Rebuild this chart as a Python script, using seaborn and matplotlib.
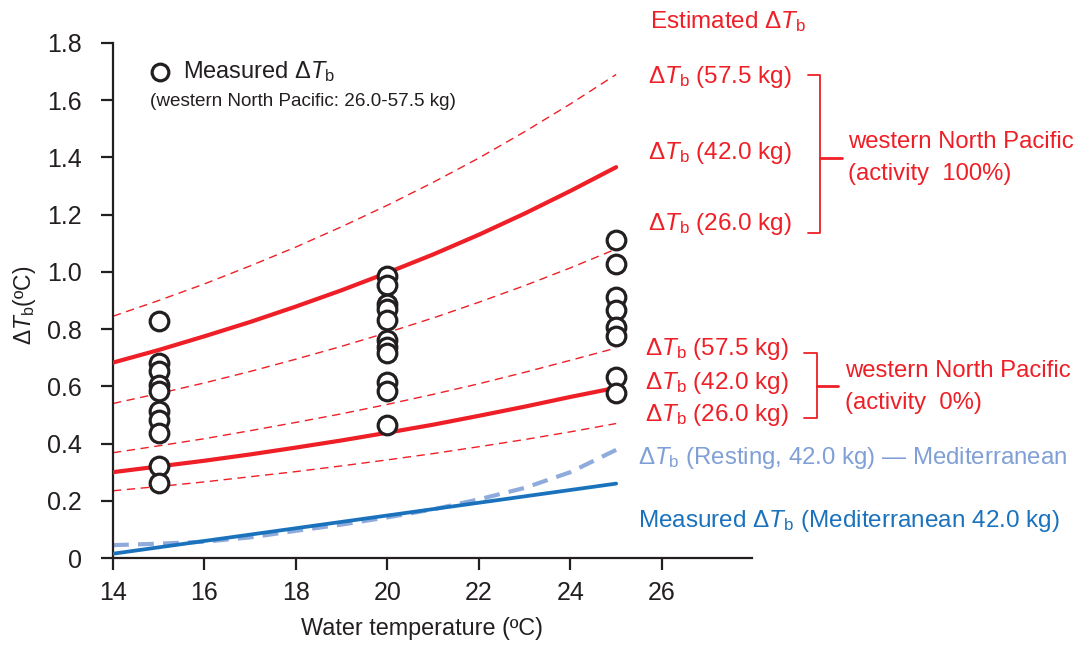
import numpy as np
import pandas as pd
import matplotlib
matplotlib.use("Agg")
import matplotlib.pyplot as plt
import seaborn as sns
from matplotlib.lines import Line2D

# ---------------- data ----------------
temps = [14, 15, 16, 17, 18, 19, 20, 21, 22, 23, 24, 25]

# Estimated ΔTb, western North Pacific, activity 100 %
wnp100_575 = [0.845, 0.900, 0.958, 1.021, 1.087, 1.158, 1.233, 1.313, 1.398, 1.490, 1.587, 1.690]
wnp100_420 = [0.683, 0.727, 0.775, 0.825, 0.879, 0.936, 0.997, 1.061, 1.130, 1.204, 1.283, 1.366]
wnp100_260 = [0.540, 0.575, 0.612, 0.652, 0.695, 0.740, 0.788, 0.839, 0.894, 0.952, 1.014, 1.080]

# Estimated ΔTb, western North Pacific, activity 0 %
wnp0_575 = [0.368, 0.392, 0.417, 0.445, 0.474, 0.504, 0.537, 0.572, 0.609, 0.649, 0.691, 0.734]
wnp0_420 = [0.300, 0.320, 0.340, 0.362, 0.386, 0.411, 0.438, 0.466, 0.497, 0.529, 0.563, 0.595]
wnp0_260 = [0.235, 0.250, 0.266, 0.284, 0.302, 0.322, 0.343, 0.365, 0.389, 0.414, 0.441, 0.470]

# Mediterranean
resting_420 = [0.045, 0.050, 0.057, 0.072, 0.095, 0.117, 0.142, 0.170, 0.205, 0.245, 0.300, 0.378]
med_temps = [14, 25]
med_measured = [0.015, 0.260]

# Measured ΔTb (western North Pacific: 26.0-57.5 kg)
meas_t15 = [0.830, 0.683, 0.655, 0.605, 0.582, 0.514, 0.484, 0.436, 0.320, 0.262]
meas_t20 = [0.985, 0.955, 0.887, 0.869, 0.832, 0.762, 0.739, 0.716, 0.616, 0.584, 0.464]
meas_t25 = [1.111, 1.028, 0.912, 0.867, 0.809, 0.776, 0.632, 0.576]

xticks = [14, 16, 18, 20, 22, 24, 26]
yticks = [0, 0.2, 0.4, 0.6, 0.8, 1.0, 1.2, 1.4, 1.6, 1.8]
ytick_labels = ["0", "0.2", "0.4", "0.6", "0.8", "1.0", "1.2", "1.4", "1.6", "1.8"]

# ---------------- style ----------------
sns.set_theme(style="ticks")
plt.rcParams["font.family"] = ["Liberation Sans", "DejaVu Sans"]
plt.rcParams["mathtext.fontset"] = "custom"
plt.rcParams["mathtext.rm"] = "Liberation Sans"
plt.rcParams["mathtext.it"] = "Liberation Sans:italic"

RED = "#ee1f26"
BLUE = "#1a72bd"
LBLUE = "#8fabdc"
LBLUE_TXT = "#7f9fd6"
INK = "#231f20"

W, H = 1080, 646
fig = plt.figure(figsize=(W / 100, H / 100), dpi=100)
ax = fig.add_axes([113 / W, 1 - 558 / H, (752 - 113) / W, (558 - 43) / H])

lines = pd.DataFrame({"temp": temps})
# dashed thin red lines
for vals in (wnp100_575, wnp100_260, wnp0_575, wnp0_260):
    sns.lineplot(x=lines["temp"], y=vals, ax=ax, color=RED, lw=1.0,
                 linestyle=(0, (6, 4)), zorder=2)
# solid red lines
for vals in (wnp100_420, wnp0_420):
    sns.lineplot(x=lines["temp"], y=vals, ax=ax, color=RED, lw=3.0, zorder=3)
# Mediterranean
sns.lineplot(x=lines["temp"], y=resting_420, ax=ax, color=LBLUE, lw=3.0,
             linestyle=(0, (3.8, 2.2)), zorder=2)
sns.lineplot(x=med_temps, y=med_measured, ax=ax, color=BLUE, lw=2.7, zorder=3)

# measured points
mx = [15] * len(meas_t15) + [20] * len(meas_t20) + [25] * len(meas_t25)
my = meas_t15 + meas_t20 + meas_t25
sns.scatterplot(x=mx, y=my, ax=ax, marker="o", s=180, color="white",
                edgecolor=INK, linewidth=2.3, zorder=5, legend=False)

ax.set_xlim(14, 27.97)
ax.set_ylim(0, 1.8)
ax.set_xticks(xticks)
ax.set_yticks(yticks)
ax.set_yticklabels(ytick_labels)
ax.tick_params(axis="both", direction="out", length=8.5, width=1.6, colors=INK,
               labelsize=18)
ax.tick_params(axis="y", pad=14)
ax.tick_params(axis="x", pad=8)
for side in ("top", "right"):
    ax.spines[side].set_visible(False)
for side in ("left", "bottom"):
    ax.spines[side].set_linewidth(1.6)
    ax.spines[side].set_color(INK)
ax.spines["left"].set_bounds(0, 1.8)

ax.set_xlabel("Water temperature (ºC)", fontsize=16.8, color=INK)
ax.xaxis.set_label_coords((422 - 113) / (752 - 113), -(617 - 558) / (558 - 43))
ax.set_ylabel(r"Δ$T_{\mathrm{b}}$(ºC)", fontsize=16.5, color=INK)
ax.yaxis.set_label_coords(-(113 - 38) / (752 - 113), 0.49)


def ftxt(x, y, s, color, size=17.5, **kw):
    fig.text(x / W, 1 - y / H, s, color=color, fontsize=size,
             ha="left", va="center", **kw)


def fline(xs, ys, color, lw=1.3):
    fig.add_artist(Line2D([x / W for x in xs], [1 - y / H for y in ys],
                          color=color, lw=lw, transform=fig.transFigure))


DT = r"Δ$T_{\mathrm{b}}$"

# legend
fig.add_artist(Line2D([160 / W], [1 - 72 / H], marker="o", markersize=12,
                      markerfacecolor="white", markeredgecolor=INK,
                      markeredgewidth=2.3, transform=fig.transFigure))
ftxt(183, 72, "Measured " + DT, INK, 17)
ftxt(150, 102, "(western North Pacific: 26.0-57.5 kg)", INK, 13.6)

# right annotations
ftxt(650, 22, "Estimated " + DT, RED)
ftxt(648, 77, DT + " (57.5 kg)", RED)
ftxt(648, 153, DT + " (42.0 kg)", RED)
ftxt(648, 224, DT + " (26.0 kg)", RED)
fline([808, 820, 820, 808], [75, 75, 233, 233], RED)
fline([820, 842], [158, 158], RED, 2.0)
ftxt(848, 142, "western North Pacific", RED, 17.2)
ftxt(848, 174, "(activity  100%)", RED, 17.2)

ftxt(645, 349, DT + " (57.5 kg)", RED)
ftxt(645, 383, DT + " (42.0 kg)", RED)
ftxt(645, 415, DT + " (26.0 kg)", RED)
fline([804, 817, 817, 804], [353, 353, 418, 418], RED)
fline([817, 838], [386, 386], RED, 2.0)
ftxt(845, 371, "western North Pacific", RED, 17.2)
ftxt(845, 403, "(activity  0%)", RED, 17.2)

ftxt(638, 458, DT + " (Resting, 42.0 kg) — Mediterranean", LBLUE_TXT, 17.3)
ftxt(638, 521, "Measured " + DT + " (Mediterranean 42.0 kg)", BLUE, 17.5)

fig.savefig("out.png", dpi=100)
